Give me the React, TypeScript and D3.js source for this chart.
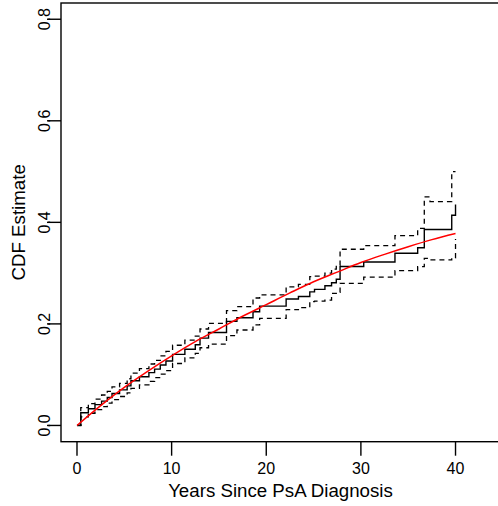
import React from "react";
import * as d3 from "d3";

// Event times (years) with the Kaplan–Meier CDF estimate and its pointwise band
const stepTimes = [0, 0.4, 1.2, 1.9, 2.6, 3.2, 3.7, 4.5, 5.3, 5.7, 6.6, 7.6, 8.2, 8.8, 9.4, 10.1, 11.4, 12.5, 13.0, 13.9, 15.8, 16.9, 18.6, 19.3, 22.1, 23.4, 24.6, 25.1, 26.2, 26.9, 27.4, 27.8, 30.3, 33.6, 36.0, 36.7, 37.3, 39.6, 40.0];
const cdfEstimate = [0, 0.025, 0.033, 0.041, 0.048, 0.055, 0.063, 0.070, 0.078, 0.088, 0.096, 0.104, 0.111, 0.119, 0.127, 0.140, 0.150, 0.159, 0.172, 0.183, 0.205, 0.212, 0.224, 0.235, 0.249, 0.254, 0.263, 0.268, 0.275, 0.281, 0.288, 0.313, 0.322, 0.339, 0.350, 0.386, 0.386, 0.414, 0.435];
const cdfLower = [0, 0.017, 0.024, 0.031, 0.037, 0.044, 0.051, 0.057, 0.064, 0.073, 0.080, 0.087, 0.094, 0.101, 0.108, 0.122, 0.133, 0.142, 0.153, 0.160, 0.177, 0.188, 0.198, 0.211, 0.228, 0.232, 0.244, 0.245, 0.247, 0.260, 0.262, 0.280, 0.292, 0.305, 0.313, 0.329, 0.326, 0.330, 0.367];
const cdfUpper = [0, 0.035, 0.043, 0.052, 0.060, 0.067, 0.076, 0.083, 0.092, 0.103, 0.112, 0.121, 0.128, 0.137, 0.146, 0.158, 0.168, 0.176, 0.190, 0.201, 0.226, 0.234, 0.251, 0.257, 0.273, 0.278, 0.293, 0.294, 0.300, 0.308, 0.315, 0.347, 0.354, 0.374, 0.388, 0.450, 0.441, 0.500, 0.500];

// Parametric fit evaluated on a grid of years
const fitYears = [0, 2.5, 5, 7.5, 10, 12.5, 15, 17.5, 20, 22.5, 25, 27.5, 30, 32.5, 35, 37.5, 40];
const fitCdf = [0, 0.039, 0.075, 0.107, 0.137, 0.165, 0.190, 0.215, 0.238, 0.261, 0.283, 0.302, 0.321, 0.337, 0.352, 0.366, 0.378];

const xTicks = [0, 10, 20, 30, 40];
const yTicks = [0, 0.2, 0.4, 0.6, 0.8];
const yTickLabels = ["0.0", "0.2", "0.4", "0.6", "0.8"];

const W = 498;
const H = 506;
const plot = { left: 61, right: 500, top: 3, bottom: 441.7 };

export default function App() {
  const x = d3.scaleLinear().domain([-1.69, 44.7]).range([plot.left, plot.right]);
  const y = d3.scaleLinear().domain([-0.032, 0.832]).range([plot.bottom, plot.top]);

  const step = d3
    .line<[number, number]>()
    .x((d) => x(d[0]))
    .y((d) => y(d[1]))
    .curve(d3.curveStepAfter);
  const smooth = d3
    .line<[number, number]>()
    .x((d) => x(d[0]))
    .y((d) => y(d[1]))
    .curve(d3.curveMonotoneX);

  const pts = (vals: number[]) => stepTimes.map((t, i) => [t, vals[i]] as [number, number]);
  const fitPts = fitYears.map((t, i) => [t, fitCdf[i]] as [number, number]);

  const font = "'Liberation Sans', Arial, Helvetica, sans-serif";

  return (
    <svg
      width={W}
      height={H}
      style={{ position: "absolute", left: 0, top: 0, background: "#fff" }}
      fontFamily={font}
    >
      <defs>
        <clipPath id="plotArea">
          <rect x={plot.left} y={plot.top} width={plot.right - plot.left} height={plot.bottom - plot.top} />
        </clipPath>
      </defs>

      <g clipPath="url(#plotArea)" fill="none">
        <path d={step(pts(cdfLower)) ?? ""} stroke="#000" strokeWidth={1.3} strokeDasharray="5 4" />
        <path d={step(pts(cdfUpper)) ?? ""} stroke="#000" strokeWidth={1.3} strokeDasharray="5 4" />
        <path d={step(pts(cdfEstimate)) ?? ""} stroke="#000" strokeWidth={1.4} />
        <path d={smooth(fitPts) ?? ""} stroke="#ff0000" strokeWidth={1.5} />
      </g>

      {/* plot frame */}
      <rect
        x={plot.left}
        y={plot.top}
        width={plot.right - plot.left + 10}
        height={plot.bottom - plot.top}
        fill="none"
        stroke="#000"
        strokeWidth={1.4}
      />

      {/* x axis */}
      {xTicks.map((t) => (
        <g key={`x${t}`}>
          <line x1={x(t)} x2={x(t)} y1={plot.bottom} y2={plot.bottom + 14} stroke="#000" strokeWidth={1.4} />
          <text x={x(t)} y={474.3} fontSize={16} textAnchor="middle" fill="#000">
            {t}
          </text>
        </g>
      ))}
      <text x={(plot.left + plot.right) / 2} y={496.5} fontSize={18.7} textAnchor="middle" fill="#000">
        Years Since PsA Diagnosis
      </text>

      {/* y axis */}
      {yTicks.map((t, i) => (
        <g key={`y${t}`}>
          <line x1={plot.left - 14} x2={plot.left} y1={y(t)} y2={y(t)} stroke="#000" strokeWidth={1.4} />
          <text
            transform={`translate(${50},${y(t)}) rotate(-90)`}
            fontSize={16}
            textAnchor="middle"
            fill="#000"
          >
            {yTickLabels[i]}
          </text>
        </g>
      ))}
      <text
        transform={`translate(${25},${(plot.top + plot.bottom) / 2}) rotate(-90)`}
        fontSize={18.7}
        textAnchor="middle"
        fill="#000"
      >
        CDF Estimate
      </text>
    </svg>
  );
}
